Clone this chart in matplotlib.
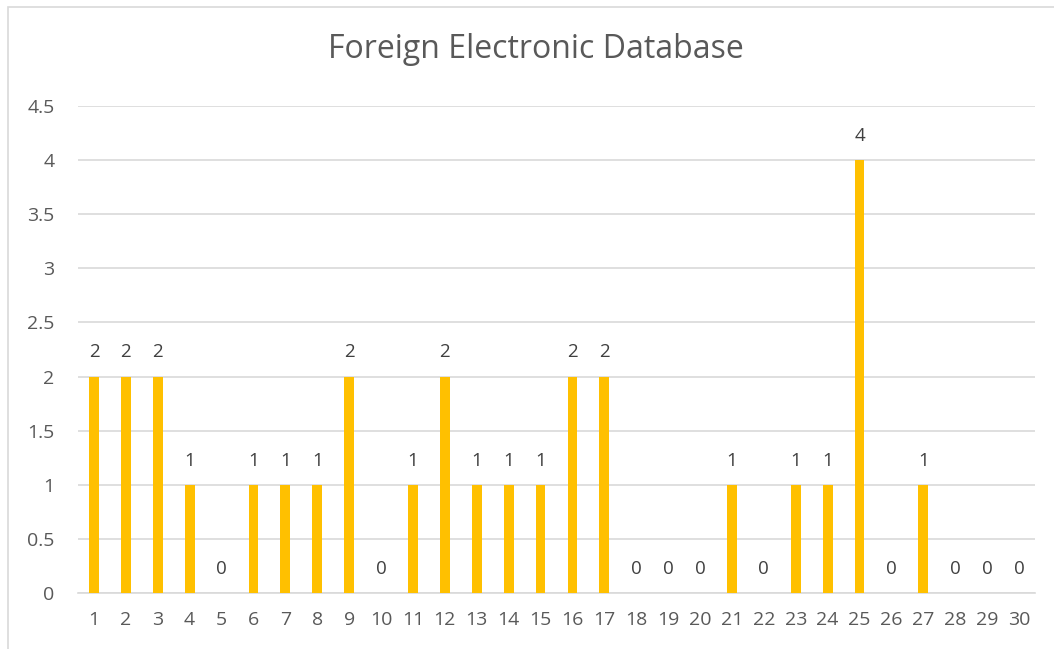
import matplotlib.pyplot as plt
from matplotlib.patches import Rectangle

categories = [str(i) for i in range(1, 31)]
values = [2, 2, 2, 1, 0, 1, 1, 1, 2, 0, 1, 2, 1, 1, 1, 2, 2, 0, 0, 0,
          1, 0, 1, 1, 4, 0, 1, 0, 0, 0]
yticks = [0, 0.5, 1, 1.5, 2, 2.5, 3, 3.5, 4, 4.5]

BAR = '#FFC000'
GRID = '#D9D9D9'
TEXT = '#595959'

plt.rcParams['font.family'] = ['Open Sans', 'DejaVu Sans']

W, H = 1054, 649
fig = plt.figure(figsize=(W / 100, H / 100), dpi=100)
ax = fig.add_axes([78 / W, 1 - 593 / H, (1035 - 78) / W, (593 - 106) / H])

# chart border
fig.patches.append(Rectangle((8 / W, -0.1), 1.2, 1 - 7 / H + 0.1,
                             transform=fig.transFigure, fill=False,
                             edgecolor=GRID, linewidth=1.2))

x = list(range(len(categories)))
ax.bar(x, values, width=0.31, color=BAR, zorder=3)

for xi, v in zip(x, values):
    ax.annotate(str(v), (xi, v), xytext=(0, 11), textcoords='offset points',
                ha='center', va='bottom', fontsize=13.5, color='#404040')

ax.set_xlim(-0.5, len(categories) - 0.5)
ax.set_ylim(0, 4.5)
ax.set_yticks(yticks)
ax.set_yticklabels([f'{t:g}' for t in yticks])
ax.set_xticks(x)
ax.set_xticklabels(categories)
ax.yaxis.grid(True, color=GRID, linewidth=1.2, zorder=0)
ax.tick_params(length=0, labelsize=14, labelcolor=TEXT)
ax.tick_params(axis='y', pad=17)
ax.tick_params(axis='x', pad=13)
for s in ['top', 'right', 'left']:
    ax.spines[s].set_visible(False)
ax.spines['bottom'].set_color(GRID)
ax.spines['bottom'].set_linewidth(1.2)

fig.text(536 / W, 1 - 50 / H, 'Foreign Electronic Database', ha='center',
         va='center', fontsize=23, color=TEXT)

fig.savefig('out.png', dpi=100)
